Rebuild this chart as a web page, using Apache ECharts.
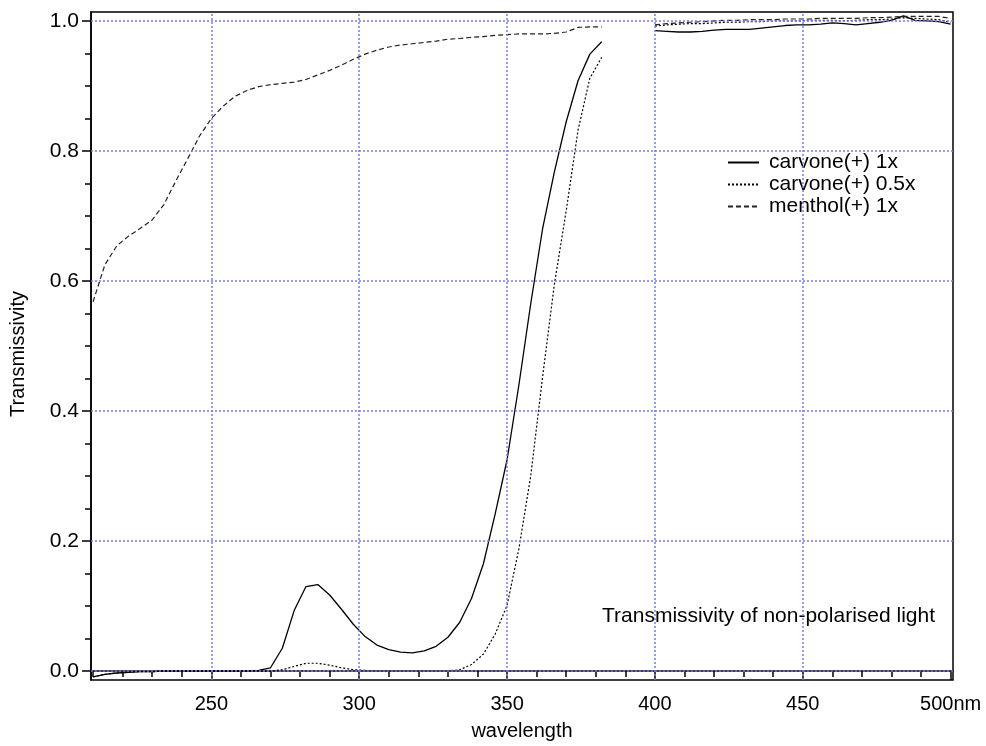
<!DOCTYPE html>
<html>
<head>
<meta charset="utf-8">
<style>
  html, body { margin: 0; padding: 0; background: #fff; }
  #chart { width: 986px; height: 746px; }
</style>
<script src="https://cdn.jsdelivr.net/npm/echarts@6/dist/echarts.min.js"></script>
</head>
<body>
<div id="chart"></div>
<script>
// UV range (nm), first detector
const wavelengthUV = [210, 214, 218, 222, 226, 230, 234, 238, 242, 246, 250, 254, 258, 262, 266, 270,
  274, 278, 282, 286, 290, 294, 298, 302, 306, 310, 314, 318, 322, 326, 330, 334, 338, 342, 346, 350,
  354, 358, 362, 366, 370, 374, 378, 382];
// visible range (nm), second detector
const wavelengthVis = [400, 404, 408, 412, 416, 420, 424, 428, 432, 436, 440, 444, 448, 452, 456, 460,
  464, 468, 472, 476, 480, 484, 488, 492, 496, 500];

const carvone1xUV = [-0.009, -0.005, -0.003, -0.002, -0.001, -0.001, 0.000, 0.000, 0.000, 0.000, 0.000,
  0.000, 0.000, 0.000, 0.001, 0.005, 0.035, 0.093, 0.130, 0.133, 0.117, 0.095, 0.072, 0.053, 0.040,
  0.033, 0.029, 0.028, 0.031, 0.038, 0.052, 0.075, 0.112, 0.165, 0.242, 0.325, 0.440, 0.565, 0.680,
  0.768, 0.845, 0.908, 0.949, 0.968];
const carvone1xVis = [0.985, 0.984, 0.983, 0.983, 0.984, 0.986, 0.987, 0.987, 0.987, 0.989, 0.991,
  0.993, 0.994, 0.994, 0.995, 0.997, 0.996, 0.994, 0.996, 0.998, 1.001, 1.008, 1.001, 1.000, 0.999, 0.995];

const carvoneHalfUV = [-0.009, -0.005, -0.003, -0.002, -0.001, -0.001, 0.000, 0.000, 0.000, 0.000, 0.000,
  0.000, 0.000, 0.000, 0.000, 0.000, 0.002, 0.007, 0.012, 0.012, 0.009, 0.005, 0.002, 0.001, 0.000,
  0.000, 0.000, 0.000, 0.000, 0.000, 0.000, 0.002, 0.010, 0.026, 0.057, 0.101, 0.188, 0.300, 0.452,
  0.595, 0.708, 0.832, 0.912, 0.944];
const carvoneHalfVis = [0.992, 0.994, 0.995, 0.996, 0.996, 0.997, 0.998, 0.998, 0.999, 0.999, 1.000,
  1.000, 1.000, 1.001, 1.001, 1.001, 1.000, 1.001, 1.002, 1.002, 1.003, 1.005, 1.004, 1.003, 1.002, 0.998];

const mentholUV = [0.568, 0.625, 0.654, 0.669, 0.681, 0.694, 0.718, 0.754, 0.788, 0.823, 0.850, 0.869,
  0.884, 0.893, 0.899, 0.902, 0.904, 0.906, 0.910, 0.917, 0.924, 0.932, 0.941, 0.949, 0.955, 0.960,
  0.963, 0.965, 0.967, 0.969, 0.972, 0.973, 0.975, 0.976, 0.978, 0.979, 0.980, 0.980, 0.980, 0.981,
  0.983, 0.990, 0.991, 0.991];
const mentholVis = [0.994, 0.996, 0.997, 0.998, 0.999, 1.000, 1.001, 1.001, 1.002, 1.002, 1.002, 1.003,
  1.003, 1.003, 1.004, 1.004, 1.004, 1.004, 1.005, 1.005, 1.006, 1.007, 1.007, 1.007, 1.007, 1.004];

const seriesNames = ['carvone(+) 1x', 'carvone(+) 0.5x', 'menthol(+) 1x'];

// tick positions
const xMajorTicks = [250, 300, 350, 400, 450, 500];
const xMinorTicks = [210, 220, 230, 240, 260, 270, 280, 290, 310, 320, 330, 340, 360, 370, 380, 390,
  410, 420, 430, 440, 460, 470, 480, 490];
const yMajorTicks = [0, 0.2, 0.4, 0.6, 0.8, 1.0];
const yMinorTicks = [0.05, 0.1, 0.15, 0.25, 0.3, 0.35, 0.45, 0.5, 0.55, 0.65, 0.7, 0.75, 0.85, 0.9, 0.95];
// grid line positions
const xGridLines = [250, 300, 350, 400, 450];
const yGridLines = [0, 0.2, 0.4, 0.6, 0.8, 1.0];

const X_MIN = 209.3, X_MAX = 500.8;
const Y_MIN = -0.0138, Y_MAX = 1.0138;

const FONT = 'Liberation Sans, Arial, Helvetica, sans-serif';

// two detector segments joined by a null so the line breaks between them
function joinSegments(xa, ya, xb, yb) {
  const out = xa.map((x, i) => [x, ya[i]]);
  out.push([(xa[xa.length - 1] + xb[0]) / 2, null]);
  xb.forEach((x, i) => out.push([x, yb[i]]));
  return out;
}

const gridBlue = '#7878ff';
const gridStyle = { color: gridBlue, type: [2, 2], width: 1.5, opacity: 1 };

const chart = echarts.init(document.getElementById('chart'), null, { renderer: 'canvas' });

function lineSeries(name, xs1, ys1, xs2, ys2, style) {
  return {
    name, type: 'line', xAxisIndex: 0, yAxisIndex: 0,
    symbol: 'none', showSymbol: false, connectNulls: false,
    lineStyle: style, itemStyle: { color: style.color },
    data: joinSegments(xs1, ys1, xs2, ys2),
    z: 3
  };
}

chart.setOption({
  animation: false,
  backgroundColor: '#ffffff',
  grid: {
    left: 91, top: 12, right: 33, bottom: 64,
    show: true, borderColor: '#000', borderWidth: 1.5, backgroundColor: 'transparent'
  },
  legend: {
    orient: 'vertical',
    left: 727, top: 152, padding: 0,
    itemWidth: 31, itemHeight: 10, itemGap: 1,
    itemStyle: { opacity: 0, borderWidth: 0 },
    textStyle: { fontFamily: FONT, fontSize: 21, color: '#000', padding: [0, 0, 0, 5] },
    data: seriesNames
  },
  xAxis: [
    {
      type: 'value', min: X_MIN, max: X_MAX, position: 'bottom',
      name: 'wavelength', nameLocation: 'middle', nameGap: 41,
      nameTextStyle: { fontFamily: FONT, fontSize: 20, color: '#000' },
      axisLine: { show: true, lineStyle: { color: '#000', width: 1.5 } },
      axisTick: { show: true, length: 9, customValues: xMajorTicks, lineStyle: { color: '#000', width: 1.5 } },
      axisLabel: {
        customValues: xMajorTicks, margin: 14,
        fontFamily: FONT, fontSize: 20, color: '#000',
        formatter: v => (v === 500 ? '500nm' : String(v))
      },
      splitLine: { show: false }
    },
    {
      type: 'value', min: X_MIN, max: X_MAX, position: 'bottom', offset: 0,
      axisLine: { show: false },
      axisTick: { show: true, length: 6, customValues: xMinorTicks, lineStyle: { color: '#000', width: 1.5 } },
      axisLabel: { show: false },
      splitLine: { show: false }
    }
  ],
  yAxis: [
    {
      type: 'value', min: Y_MIN, max: Y_MAX, position: 'left',
      name: 'Transmissivity', nameLocation: 'middle', nameGap: 63, nameRotate: 90,
      nameTextStyle: { fontFamily: FONT, fontSize: 20, color: '#000', padding: [0, 16, 0, 0] },
      axisLine: { show: true, lineStyle: { color: '#000', width: 1.5 } },
      axisTick: { show: true, length: 9, customValues: yMajorTicks, lineStyle: { color: '#000', width: 1.5 } },
      axisLabel: {
        customValues: yMajorTicks, margin: 12,
        fontFamily: FONT, fontSize: 21, color: '#000',
        formatter: v => v.toFixed(1)
      },
      splitLine: { show: false }
    },
    {
      type: 'value', min: Y_MIN, max: Y_MAX, position: 'left', offset: 0,
      axisLine: { show: false },
      axisTick: { show: true, length: 6, customValues: yMinorTicks, lineStyle: { color: '#000', width: 1.5 } },
      axisLabel: { show: false },
      splitLine: { show: false }
    }
  ],
  graphic: [
    {
      type: 'text', left: 602, top: 606,
      style: { text: 'Transmissivity of non-polarised light', font: '21px ' + FONT, fill: '#000' }
    }
  ],
  series: [
    // dotted blue grid
    {
      type: 'line', xAxisIndex: 0, yAxisIndex: 0, data: [], z: 1, silent: true,
      color: gridBlue,
      markLine: {
        silent: true, symbol: 'none', animation: false,
        label: { show: false },
        emphasis: { disabled: true },
        lineStyle: gridStyle,
        data: xGridLines.map(v => ({ xAxis: v, lineStyle: gridStyle }))
          .concat(yGridLines.map(v => ({ yAxis: v, lineStyle: gridStyle })))
      }
    },
    lineSeries(seriesNames[0], wavelengthUV, carvone1xUV, wavelengthVis, carvone1xVis,
      { color: '#000', width: 1.3, type: 'solid' }),
    lineSeries(seriesNames[1], wavelengthUV, carvoneHalfUV, wavelengthVis, carvoneHalfVis,
      { color: '#000', width: 1.2, type: [2, 2] }),
    lineSeries(seriesNames[2], wavelengthUV, mentholUV, wavelengthVis, mentholVis,
      { color: '#222', width: 1.2, type: [5, 3] })
  ]
});
</script>
</body>
</html>
